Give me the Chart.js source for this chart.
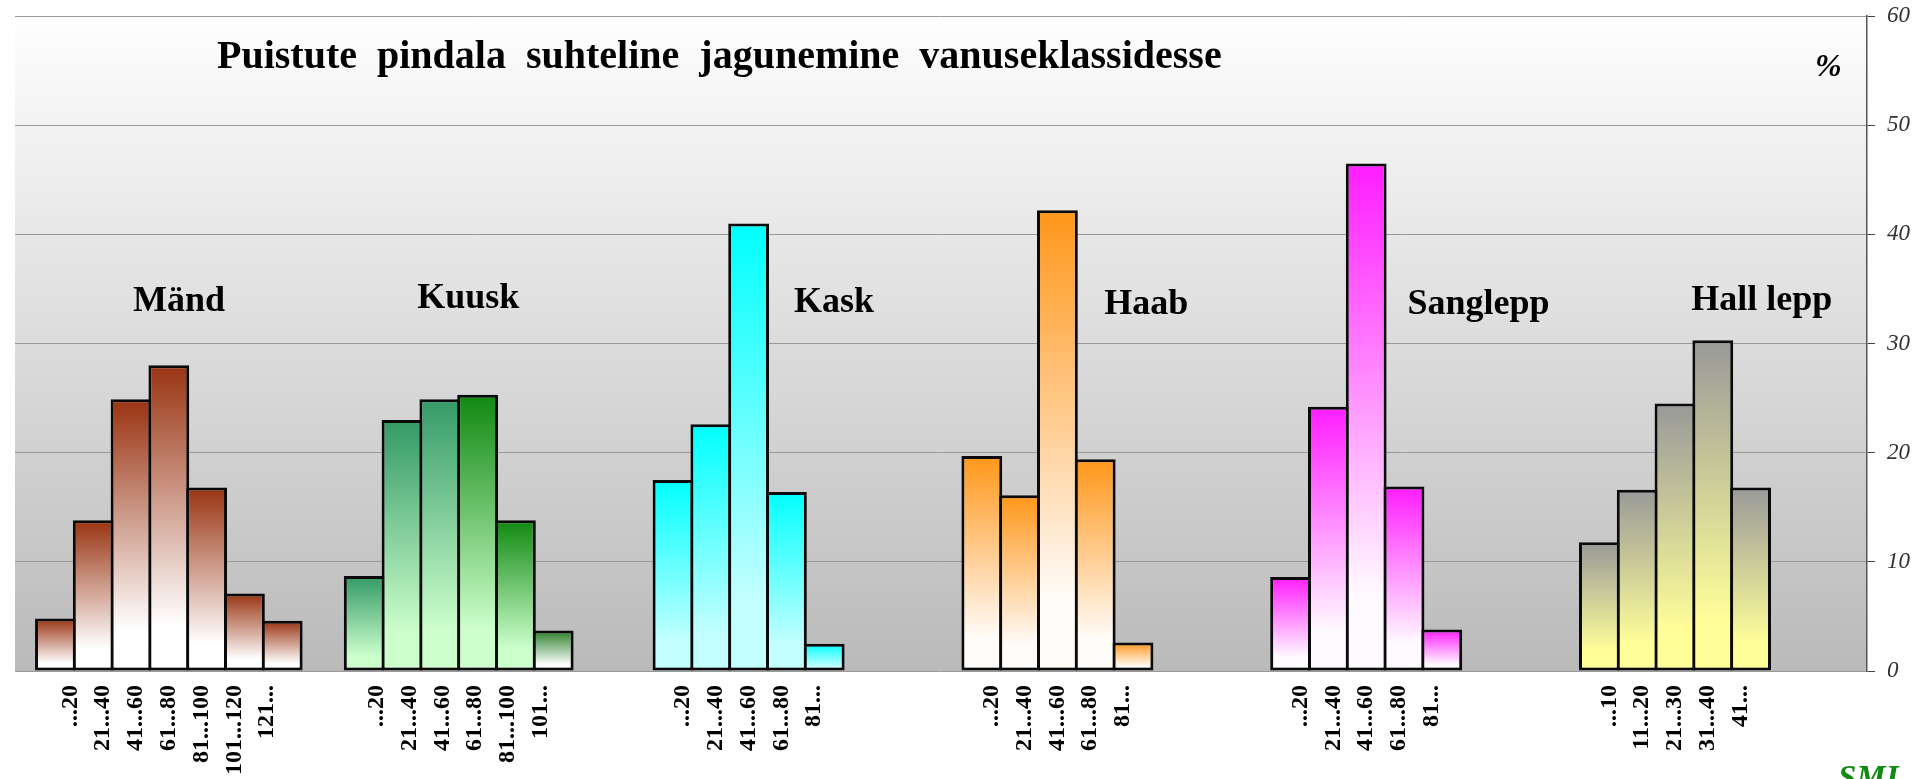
<!DOCTYPE html>
<html>
<head>
<meta charset="utf-8">
<script src="https://cdn.jsdelivr.net/npm/chart.js@4"></script>
<style>
  html, body { margin: 0; padding: 0; background: #ffffff; overflow: hidden; }
  #wrap { position: relative; width: 1921px; height: 779px; }
</style>
</head>
<body>
<div id="wrap"><canvas id="c"></canvas></div>
<script>
// ---------------- data ----------------
const TITLE = 'Puistute  pindala  suhteline  jagunemine  vanuseklassidesse';
const UNIT_LABEL = '%';
const SPECIES = ['Mänd', 'Kuusk', 'Kask', 'Haab', 'Sanglepp', 'Hall lepp'];

const LABELS_MAND = ['...20', '21...40', '41...60', '61...80', '81...100', '101...120', '121...'];
const LABELS_KUUSK = ['...20', '21...40', '41...60', '61...80', '81...100', '101...'];
const LABELS_KASK = ['...20', '21...40', '41...60', '61...80', '81...'];
const LABELS_HAAB = ['...20', '21...40', '41...60', '61...80', '81...'];
const LABELS_SANGLEPP = ['...20', '21...40', '41...60', '61...80', '81...'];
const LABELS_HALL_LEPP = ['...10', '11...20', '21...30', '31...40', '41...'];

const VALUES_MAND = [4.8, 13.8, 24.9, 28.0, 16.8, 7.1, 4.6];
const VALUES_KUUSK = [8.7, 23.0, 24.9, 25.3, 13.8, 3.7];
const VALUES_KASK = [17.5, 22.6, 41.0, 16.4, 2.5];
const VALUES_HAAB = [19.7, 16.1, 42.2, 19.4, 2.6];
const VALUES_SANGLEPP = [8.6, 24.2, 46.5, 16.9, 3.8];
const VALUES_HALL_LEPP = [11.8, 16.6, 24.5, 30.3, 16.8];

const Y_TICKS = [0, 10, 20, 30, 40, 50, 60];

// ---------------- styles / layout ----------------
const TOP_COLORS = [
  ['#993311'],
  ['#339966', '#339966', '#349a68', '#118811', '#118811', '#2a7f2a'],
  ['#00ffff'],
  ['#ff9619'],
  ['#ff1cff'],
  ['#999999']
];
const BOTTOM_COLORS = [
  ['#ffffff'],
  ['#ccffcc', '#ccffcc', '#ccffcc', '#ccffcc', '#ccffcc', '#ffffff'],
  ['#c4ffff'],
  ['#fffcfa'],
  ['#fffaff'],
  ['#ffff99']
];
const X_MAX = 49;            // width of the x range, in bar units
const GROUP_START = 0.57;    // first group offset, bar units
const GROUP_STEP = 8.17;     // distance between group starts, bar units
const LABEL_STEP = 0.868;    // spacing of the tick labels, bar units
const SPECIES_LABEL_X = [3.12, 10.64, 20.61, 28.82, 36.84, 44.35];
const SPECIES_LABEL_Y = [33.0, 33.27, 32.9, 32.7, 32.7, 33.05];

const GROUP_VALUES = [VALUES_MAND, VALUES_KUUSK, VALUES_KASK, VALUES_HAAB, VALUES_SANGLEPP, VALUES_HALL_LEPP];
const GROUP_LABELS = [LABELS_MAND, LABELS_KUUSK, LABELS_KASK, LABELS_HAAB, LABELS_SANGLEPP, LABELS_HALL_LEPP];

const SERIF = "'Liberation Serif', 'Times New Roman', serif";

function pick(arr, i) { return arr[Math.min(i, arr.length - 1)]; }

function barFill(g) {
  return (ctx) => {
    const chart = ctx.chart;
    const i = ctx.dataIndex;
    const top = pick(TOP_COLORS[g], i);
    const bottom = pick(BOTTOM_COLORS[g], i);
    if (!chart.chartArea || !ctx.raw) return top;
    const ys = chart.scales.y;
    const y1 = ys.getPixelForValue(ctx.raw.y);
    const y0 = ys.getPixelForValue(0);
    const grad = chart.ctx.createLinearGradient(0, y1, 0, y0);
    grad.addColorStop(0, top);
    grad.addColorStop(0.85, bottom);
    grad.addColorStop(1, bottom);
    return grad;
  };
}

const datasets = GROUP_VALUES.map((vals, g) => ({
  label: SPECIES[g],
  data: vals.map((v, i) => ({ x: GROUP_START + g * GROUP_STEP + i + 0.5, y: v })),
  backgroundColor: barFill(g),
  borderColor: '#0a0a0a',
  borderWidth: 3,
  borderSkipped: false,
  grouped: false,
  categoryPercentage: 1.0,
  barPercentage: 1.08,
  xAxisID: 'x',
  yAxisID: 'y'
}));

// tick label positions: centred under each group
const ALL_LABELS = [];
const LABEL_POS = [];
GROUP_LABELS.forEach((labs, g) => {
  const n = labs.length;
  const centre = GROUP_START + g * GROUP_STEP + n / 2;
  labs.forEach((lab, i) => {
    ALL_LABELS.push(lab);
    LABEL_POS.push(centre + (i - (n - 1) / 2) * LABEL_STEP);
  });
});

const backgroundPlugin = {
  id: 'bg',
  beforeDraw(chart) {
    const { ctx, chartArea: a } = chart;
    ctx.save();
    ctx.fillStyle = '#ffffff';
    ctx.fillRect(0, 0, chart.width, chart.height);
    const grad = ctx.createLinearGradient(0, a.top, 0, a.bottom);
    grad.addColorStop(0, '#fefefe');
    grad.addColorStop(1, '#bababa');
    ctx.fillStyle = grad;
    ctx.fillRect(a.left, a.top, a.right - a.left, a.bottom - a.top);
    ctx.restore();
  }
};

const textPlugin = {
  id: 'texts',
  afterDatasetsDraw(chart) {
    const { ctx } = chart;
    const xs = chart.scales.x, ys = chart.scales.y;
    ctx.save();
    ctx.fillStyle = '#000000';
    ctx.textBaseline = 'alphabetic';
    ctx.textAlign = 'left';
    ctx.font = 'bold 40px ' + SERIF;
    ctx.fillText(TITLE, 217, 68);
    ctx.font = 'bold 36px ' + SERIF;
    SPECIES.forEach((name, g) => {
      ctx.fillText(name, xs.getPixelForValue(SPECIES_LABEL_X[g]), ys.getPixelForValue(SPECIES_LABEL_Y[g]));
    });
    ctx.font = 'italic bold 32px ' + SERIF;
    ctx.fillText(UNIT_LABEL, 1815, 76);
    ctx.fillStyle = '#128a12';
    ctx.font = 'italic bold 33px ' + SERIF;
    ctx.fillText('SMI', 1838, 788);
    ctx.restore();
  }
};

new Chart(document.getElementById('c'), {
  type: 'bar',
  data: { datasets },
  plugins: [backgroundPlugin, textPlugin],
  options: {
    responsive: true,
    maintainAspectRatio: false,
    animation: false,
    devicePixelRatio: 1,
    layout: { padding: { left: 15, top: 16, right: 0, bottom: 0 } },
    plugins: { legend: { display: false }, tooltip: { enabled: false } },
    scales: {
      x: {
        type: 'linear',
        position: 'bottom',
        offset: false,
        min: 0,
        max: X_MAX,
        grid: { display: false, drawTicks: false },
        border: { display: false },
        ticks: { display: false },
        afterBuildTicks: (s) => { s.ticks = [{ value: 0 }, { value: X_MAX }]; },
        afterFit: (s) => { s.height = 0; s.paddingLeft = 0; s.paddingRight = 0; }
      },
      x2: {
        type: 'linear',
        position: 'bottom',
        offset: false,
        min: 0,
        max: X_MAX,
        grid: { display: false, drawTicks: false },
        border: { display: false },
        afterBuildTicks: (s) => { s.ticks = LABEL_POS.map(v => ({ value: v })); },
        afterFit: (s) => { s.height = 108; s.paddingLeft = 0; s.paddingRight = 0; },
        ticks: {
          autoSkip: false,
          minRotation: 90,
          maxRotation: 90,
          padding: 14,
          color: '#000000',
          font: { family: SERIF, size: 24, weight: 'bold' },
          callback: (v, i) => ALL_LABELS[i]
        }
      },
      y: {
        position: 'right',
        min: 0,
        max: 60,
        afterBuildTicks: (s) => { s.ticks = Y_TICKS.map(v => ({ value: v })); },
        afterFit: (s) => { s.width = 54; s.paddingTop = 0; s.paddingBottom = 0; },
        grid: { color: '#999999', lineWidth: 1, tickLength: 8, tickColor: '#444444' },
        border: { display: true, color: '#555555', width: 1.5 },
        ticks: {
          padding: 12,
          color: '#333333',
          font: { family: SERIF, size: 23, style: 'italic' },
          callback: (v) => String(v)
        }
      }
    }
  }
});
</script>
</body>
</html>
